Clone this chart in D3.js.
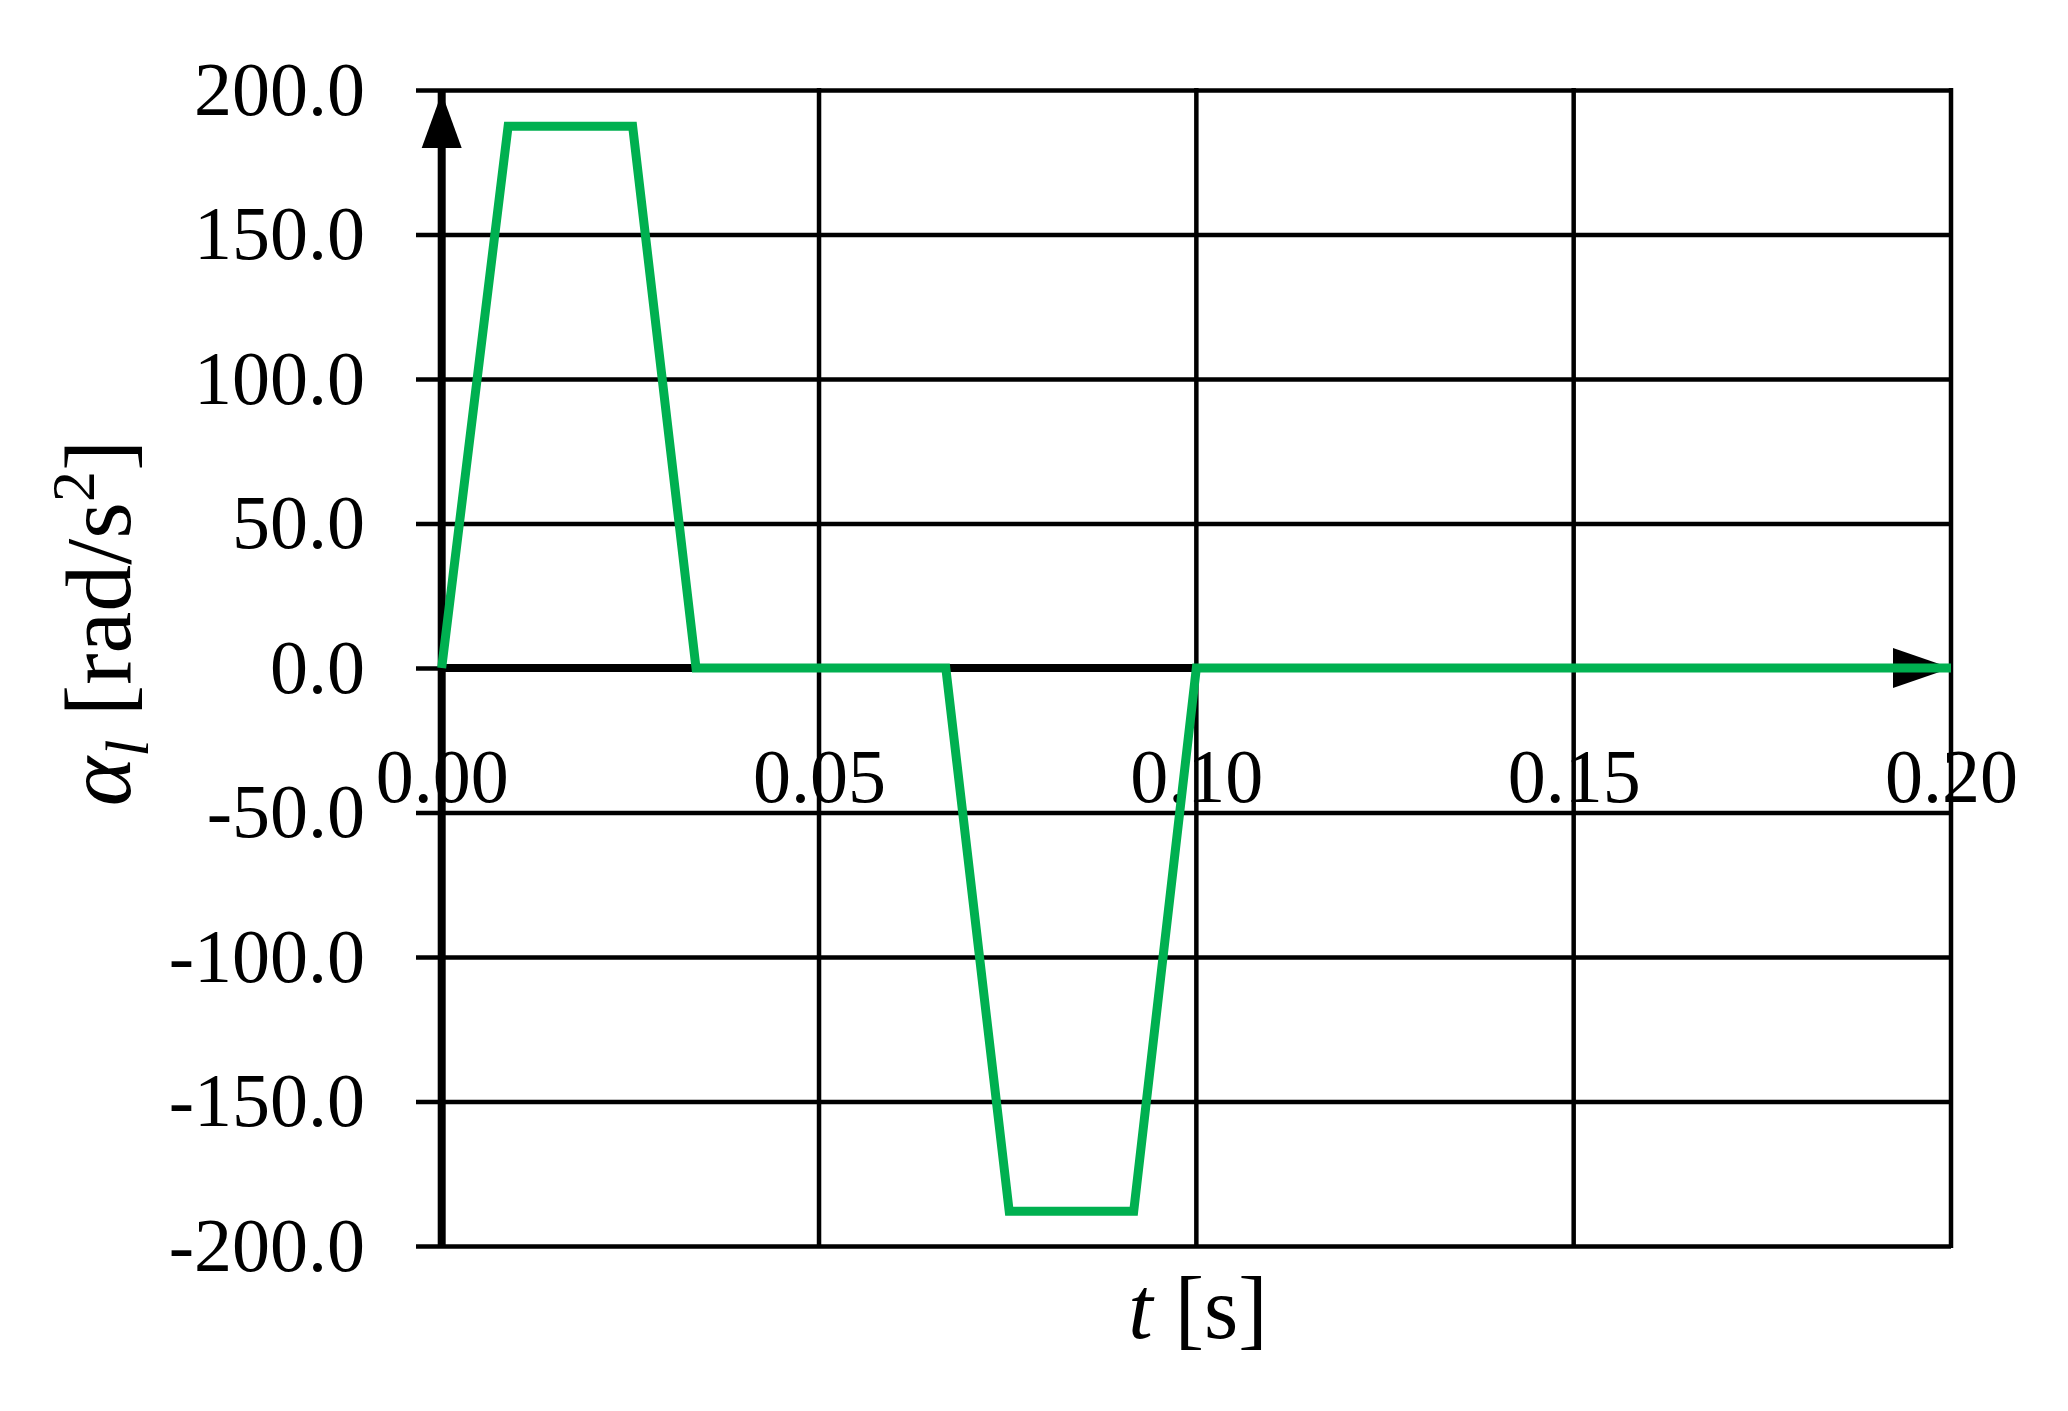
<!DOCTYPE html>
<html>
  <head>
    <meta charset="UTF-8" />
    <title>Angular acceleration</title>
    <script src="https://d3js.org/d3.v7.min.js"></script>
    <style>
      body { margin: 0; background: #fff; }
      text { font-family: "Liberation Serif", "Times New Roman", serif; fill: #000; }
    </style>
  </head>
  <body>
    <div id="chart"></div>
    <script>
      // values
      const time = [0, 0.0088, 0.0253, 0.0337, 0.0668, 0.0752, 0.0917, 0.1, 0.2];
      const alpha = [0, 187.5, 187.5, 0, 0, -188, -188, 0, 0];
      const yTicks = [-200, -150, -100, -50, 0, 50, 100, 150, 200];
      const xTicks = [0, 0.05, 0.1, 0.15, 0.2];

      const width = 2068;
      const height = 1411;
      const gridLeft = 416;

      const locale = d3.formatLocale({
        decimal: ".",
        thousands: ",",
        grouping: [3],
        currency: ["", ""],
        minus: "-",
      });

      const svg = d3
        .select("#chart")
        .append("svg")
        .attr("width", width)
        .attr("height", height)
        .style("background", "#fff");

      const x = d3.scaleLinear().domain([0, 0.2]).range([441.7, 1951]);
      const y = d3.scaleLinear().domain([-200, 200]).range([1246, 90]);

      // x tick labels sit inside the plot under the zero line (drawn first, lines go over)
      const xAxis = svg
        .append("g")
        .attr("transform", `translate(0,${y(0)})`)
        .call(
          d3
            .axisBottom(x)
            .tickValues(xTicks)
            .tickFormat(locale.format(".2f"))
            .tickSize(0)
            .tickPadding(80)
        );
      xAxis.select(".domain").remove();
      xAxis
        .selectAll(".tick text")
        .attr("font-size", 76)
        .attr("font-family", "Liberation Serif");

      // y tick labels + horizontal grid
      const yAxis = svg
        .append("g")
        .attr("transform", `translate(${gridLeft},0)`)
        .call(
          d3
            .axisLeft(y)
            .tickValues(yTicks)
            .tickFormat(locale.format(".1f"))
            .tickSize(-(x(0.2) - gridLeft))
            .tickPadding(51)
        );
      yAxis.select(".domain").remove();
      yAxis.selectAll(".tick line").attr("stroke", "#000").attr("stroke-width", 4.5);
      yAxis
        .selectAll(".tick text")
        .attr("font-size", 76)
        .attr("font-family", "Liberation Serif");

      // vertical grid
      svg
        .append("g")
        .selectAll("line")
        .data(xTicks.filter((d) => d > 0))
        .join("line")
        .attr("x1", (d) => x(d))
        .attr("x2", (d) => x(d))
        .attr("y1", y(200) - 2)
        .attr("y2", y(-200) + 2)
        .attr("stroke", "#000")
        .attr("stroke-width", 4.5);

      // thick axes
      svg
        .append("line")
        .attr("x1", x(0))
        .attr("x2", x(0))
        .attr("y1", y(200))
        .attr("y2", y(-200))
        .attr("stroke", "#000")
        .attr("stroke-width", 8);
      svg
        .append("line")
        .attr("x1", x(0))
        .attr("x2", x(0.2))
        .attr("y1", y(0))
        .attr("y2", y(0))
        .attr("stroke", "#000")
        .attr("stroke-width", 8);

      // arrow heads
      const ax = x(0);
      const ay = y(200) + 3;
      svg
        .append("path")
        .attr("d", `M${ax},${ay} L${ax - 20},${ay + 55} L${ax + 20},${ay + 55} Z`)
        .attr("fill", "#000");
      const bx = x(0.2);
      const by = y(0);
      svg
        .append("path")
        .attr("d", `M${bx},${by} L${bx - 58},${by - 20} L${bx - 58},${by + 20} Z`)
        .attr("fill", "#000");

      // signal
      const line = d3
        .line()
        .x((d, i) => x(time[i]))
        .y((d) => y(d));
      svg
        .append("path")
        .datum(alpha)
        .attr("d", line)
        .attr("fill", "none")
        .attr("stroke", "#00b050")
        .attr("stroke-width", 9)
        .attr("stroke-linejoin", "miter");

      // axis titles
      const xt = svg
        .append("text")
        .attr("x", 1198)
        .attr("y", 1338)
        .attr("text-anchor", "middle")
        .attr("font-size", 88);
      xt.append("tspan").attr("font-style", "italic").text("t");
      xt.append("tspan").text(" [s]");

      const yt = svg
        .append("text")
        .attr("transform", "translate(130,623) rotate(-90)")
        .attr("text-anchor", "middle")
        .attr("font-size", 94);
      yt.append("tspan").attr("font-style", "italic").text("α");
      yt.append("tspan")
        .attr("font-style", "italic")
        .attr("font-size", 62)
        .attr("dy", 18)
        .text("l");
      yt.append("tspan").attr("dy", -18).text(" [rad/s");
      yt.append("tspan").attr("font-size", 62).attr("dy", -36).text("2");
      yt.append("tspan").attr("dy", 36).text("]");
    </script>
  </body>
</html>
